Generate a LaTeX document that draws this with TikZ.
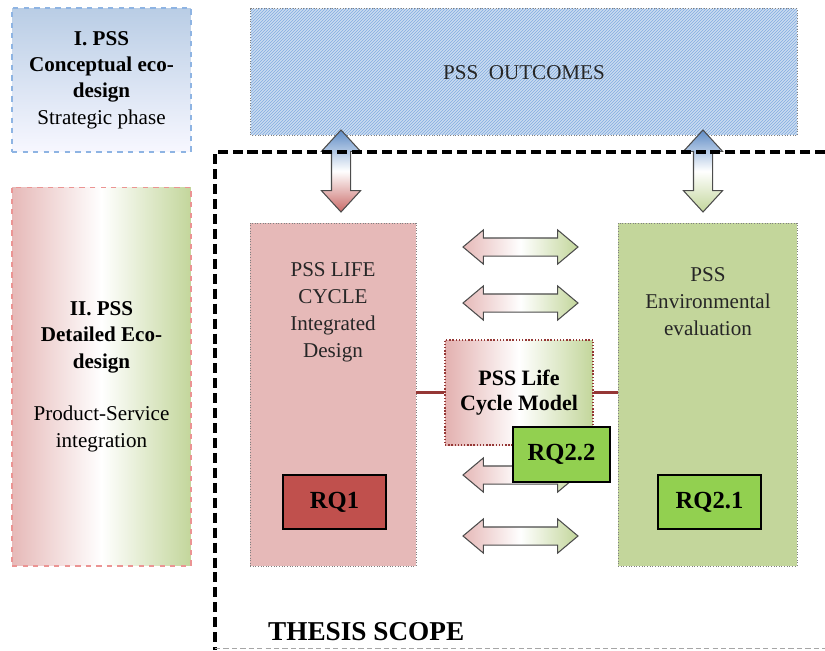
\documentclass[tikz,border=0pt]{standalone}
\usepackage{fontspec}
\setmainfont{Liberation Serif}
\usepackage{xcolor}
\usepackage{tikz}
\usetikzlibrary{shapes.arrows, positioning}

\definecolor{pinkfill}{HTML}{E6B9B8}
\definecolor{greenfill}{HTML}{C3D69B}
\definecolor{rqred}{HTML}{C0504D}
\definecolor{rqgreen}{HTML}{92D050}
\definecolor{bluetop}{HTML}{B9CDE5}
\definecolor{hatchblue}{HTML}{8EB4E3}
\definecolor{outfill}{HTML}{D5E2F2}
\definecolor{darkred}{HTML}{953735}
\definecolor{arrowblue}{HTML}{5F8CC6}

\begin{document}
\begin{tikzpicture}[x=0.02cm, y=-0.02cm,
  stagebox/.style={rectangle, dashed, line width=0.6pt, align=center, inner sep=0pt, minimum width=3.58cm},
  bigbox/.style={rectangle, draw=gray, densely dotted, line width=0.5pt},
  boxtext/.style={align=center, font=\fontsize{12}{15.3}\selectfont, text=black!85},
  rqbox/.style={rectangle, draw=black, line width=1.2pt, font=\fontsize{14}{16}\selectfont\bfseries},
  vlink/.style={double arrow, rotate=90, draw=black!70, line width=0.6pt, inner sep=0.18cm, double arrow head extend=0.2cm, double arrow tip angle=85, minimum height=1.64cm},
  hlink/.style={double arrow, draw=black!70, line width=0.6pt, inner sep=0.17cm, double arrow head extend=0.16cm, double arrow tip angle=80, minimum height=2.3cm, left color=pinkfill, right color=greenfill, middle color=white},
  redlink/.style={darkred, line width=1.3pt}]
\useasboundingbox (0,0) rectangle (825,650);

% design stages on the left
\node[stagebox, draw=hatchblue, top color=bluetop, bottom color=blue!3, minimum height=2.88cm, font=\fontsize{12}{15}\selectfont] (stage1) at (101.5,80) {\textbf{I. PSS}\\\textbf{Conceptual eco-}\\\textbf{design}\\Strategic phase};
\node[stagebox, draw=pinkfill!80!red, left color=pinkfill, right color=greenfill, middle color=white, minimum height=7.58cm, font=\fontsize{12}{15}\selectfont] (stage2) at (101.5,376.5) {\textbf{II. PSS}\\\textbf{Detailed Eco-}\\\textbf{design}\\[15pt]Product-Service\\integration};

% outcomes, hatched
\node[rectangle, fill=outfill, minimum width=10.92cm, minimum height=2.52cm] (out) at (524,72) {};
\begin{scope}
  \clip (out.south west) rectangle (out.north east);
  \foreach \k in {0,3,...,690}
    \draw[hatchblue, line width=0.45pt] (251+\k-130,135) -- (251+\k,5);
\end{scope}
\draw[gray, densely dotted, line width=0.5pt] (out.south west) rectangle (out.north east);
\node[boxtext] (outtxt) at (524,73) {PSS\ \ OUTCOMES};

% main blocks
\node[bigbox, fill=pinkfill, minimum width=3.32cm, minimum height=6.86cm] (lc) at (333,394.5) {};
\node[boxtext] (lctxt) at (333,312.5) {PSS LIFE\\CYCLE\\Integrated\\Design};
\node[bigbox, fill=greenfill, minimum width=3.58cm, minimum height=6.86cm] (env) at (707.5,394.5) {};
\node[boxtext] (envtxt) at (708,301.5) {PSS\\Environmental\\evaluation};

% links to outcomes
\node[vlink, top color=arrowblue, bottom color=rqred!85, middle color=white] (up1) at (341,171) {};
\node[vlink, top color=arrowblue, bottom color=greenfill, middle color=white] (up2) at (703,171) {};

% exchanges between blocks
\foreach \yy [count=\i] in {247,303,475,536}
  \node[hlink] (ex\i) at (520.5,\yy) {};

% life cycle model
\node[rectangle, draw=darkred, densely dotted, line width=0.8pt, left color=pinkfill!92!rqred, right color=greenfill, middle color=white, minimum width=2.96cm, minimum height=2.1cm, align=center, font=\fontsize{12.5}{14.5}\selectfont\bfseries] (model) at (519,392.5) {PSS Life\\Cycle Model};
\draw[redlink] (model.west -| lc.east) -- (model.west);
\draw[redlink] (model.east) -- (model.east -| env.west);

% research questions
\node[rqbox, fill=rqred, minimum width=2.06cm, minimum height=1.08cm] (rq1) at (334.5,502) {RQ1};
\node[rqbox, fill=rqgreen, minimum width=2.06cm, minimum height=1.08cm] (rq21) at (709.5,502) {RQ2.1};
\node[rqbox, fill=rqgreen, minimum width=1.94cm, minimum height=1.1cm] (rq22) at (561.5,454.5) {RQ2.2};

% thesis scope
\draw[line width=1.9pt, dash pattern=on 5.7pt off 2.8pt] (825,152) -- (215,152) -- (215,650);
\draw[gray!70, line width=0.6pt, dash pattern=on 3pt off 1.8pt] (215,648.5) -- (825,648.5);
\node[anchor=west, font=\fontsize{15.5}{18}\selectfont\bfseries] (scope) at (262,632) {THESIS SCOPE};
\end{tikzpicture}
\end{document}
